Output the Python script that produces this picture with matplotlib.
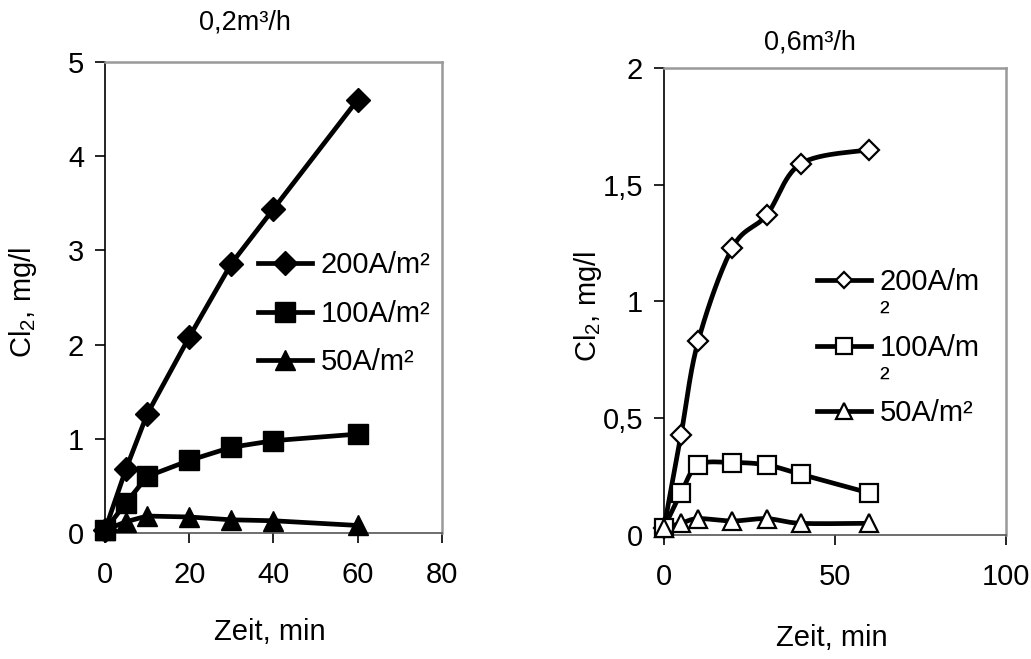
import numpy as np
import matplotlib
matplotlib.use("Agg")
import matplotlib.pyplot as plt
from matplotlib.ticker import FuncFormatter
from matplotlib.legend_handler import HandlerLine2D

plt.rcParams["font.family"] = ["Liberation Sans", "DejaVu Sans"]
plt.rcParams["mathtext.fontset"] = "custom"
plt.rcParams["mathtext.rm"] = "Liberation Sans"
plt.rcParams["mathtext.it"] = "Liberation Sans"

# ─── Data ────────────────────────────────────────────────────────────────────
time_min = [0, 5, 10, 20, 30, 40, 60]

# 0,2 m3/h
low_200 = [0.03, 0.68, 1.26, 2.08, 2.86, 3.44, 4.60]
low_100 = [0.03, 0.32, 0.60, 0.77, 0.91, 0.98, 1.05]
low_50 = [0.03, 0.12, 0.18, 0.17, 0.14, 0.13, 0.08]

# 0,6 m3/h
high_200 = [0.03, 0.43, 0.83, 1.23, 1.37, 1.59, 1.65]
high_100 = [0.03, 0.18, 0.30, 0.31, 0.30, 0.26, 0.18]
high_50 = [0.03, 0.05, 0.07, 0.06, 0.07, 0.05, 0.05]

labels_low = ["200A/m²", "100A/m²", "50A/m²"]
labels_high = ["200A/m\n²", "100A/m\n²", "50A/m²"]


def smooth(x, y, n=30):
    """Catmull-Rom style curve through the points (like a spreadsheet 'smoothed line')."""
    x = np.asarray(x, float)
    y = np.asarray(y, float)
    px = np.concatenate([[x[0]], x, [x[-1]]])
    py = np.concatenate([[y[0]], y, [y[-1]]])
    out_x, out_y = [], []
    for i in range(1, len(px) - 2):
        p0, p1, p2, p3 = (np.array([px[j], py[j]]) for j in (i - 1, i, i + 1, i + 2))
        c1 = p1 + (p2 - p0) / 6.0
        c2 = p2 - (p3 - p1) / 6.0
        t = np.linspace(0, 1, n)[:, None]
        b = ((1 - t) ** 3) * p1 + 3 * ((1 - t) ** 2) * t * c1 + 3 * (1 - t) * t ** 2 * c2 + t ** 3 * p2
        out_x.extend(b[:, 0])
        out_y.extend(b[:, 1])
    return out_x, out_y


class RaisedLine(HandlerLine2D):
    """Legend handle lifted so it sits on the first line of a wrapped label."""

    def __init__(self, lift, **kw):
        super().__init__(**kw)
        self.lift = lift

    def create_artists(self, legend, orig_handle, xdescent, ydescent,
                       width, height, fontsize, trans):
        arts = super().create_artists(legend, orig_handle, xdescent, ydescent,
                                      width, height, fontsize, trans)
        for a in arts:
            a.set_ydata(np.asarray(a.get_ydata()) + self.lift * fontsize)
        return arts


comma = FuncFormatter(lambda v, p: f"{v:g}".replace(".", ","))

FS = 21
fig = plt.figure(figsize=(10.31, 6.59), dpi=100)
ax1 = fig.add_axes([0.1018, 0.1912, 0.3269, 0.7147])
ax2 = fig.add_axes([0.644, 0.1882, 0.3317, 0.7086])


def style_axes(ax):
    for side in ("top", "right"):
        ax.spines[side].set_color("#999999")
        ax.spines[side].set_linewidth(1.8)
    ax.spines["left"].set_color("black")
    ax.spines["left"].set_linewidth(1.2)
    ax.spines["bottom"].set_color("#555555")
    ax.spines["bottom"].set_linewidth(1.2)
    ax.tick_params(axis="both", direction="out", length=7, width=1.2,
                   labelsize=FS)
    ax.tick_params(axis="y", pad=8)
    ax.tick_params(axis="x", pad=13)
    ax.yaxis.set_major_formatter(comma)


# ─── Left panel: straight lines, filled markers ─────────────────────────────
lw = 3.4
ax1.plot(time_min, low_200, color="black", lw=lw, marker="D", ms=12,
         mfc="black", mec="black", label=labels_low[0], clip_on=False, zorder=3)
ax1.plot(time_min, low_100, color="black", lw=lw, marker="s", ms=15,
         mfc="black", mec="black", label=labels_low[1], clip_on=False, zorder=3)
ax1.plot(time_min, low_50, color="black", lw=lw, marker="^", ms=15,
         mfc="black", mec="black", label=labels_low[2], clip_on=False, zorder=3)
ax1.set_xlim(0, 80)
ax1.set_ylim(0, 5)
ax1.set_xticks([0, 20, 40, 60, 80])
ax1.set_yticks([0, 1, 2, 3, 4, 5])
style_axes(ax1)
ax1.set_xlabel("Zeit, min", fontsize=FS)
ax1.xaxis.set_label_coords(0.49, -0.18)
ax1.set_ylabel(r"Cl$_\mathrm{2}$, mg/l", fontsize=FS)
ax1.yaxis.set_label_coords(-0.195, 0.49)
ax1.legend(loc="upper left", bbox_to_anchor=(0.454, 0.598), frameon=False,
           fontsize=FS, handlelength=1.85, handletextpad=0.3,
           labelspacing=0.7, borderpad=0, borderaxespad=0)
fig.text(0.238, 0.966, "0,2m³/h", fontsize=FS - 1.5, ha="center", va="center")

# ─── Right panel: smoothed lines, open markers ──────────────────────────────
series_high = [(high_200, "D", 10), (high_100, "s", 13), (high_50, "^", 13)]
handles_high = []
for (vals, mk, ms), lab in zip(series_high, labels_high):
    sx, sy = smooth(time_min, vals)
    ax2.plot(sx, sy, color="black", lw=lw, zorder=2, clip_on=False)
    ax2.plot(time_min, vals, ls="none", marker=mk, ms=ms, mfc="white",
             mec="black", mew=1.6, zorder=3, clip_on=False)
    h, = ax2.plot([], [], color="black", lw=lw, marker=mk, ms=ms * 0.85,
                  mfc="white", mec="black", mew=1.6, label=lab)
    handles_high.append(h)
ax2.set_xlim(0, 100)
ax2.set_ylim(0, 2)
ax2.set_xticks([0, 50, 100])
ax2.set_yticks([0, 0.5, 1, 1.5, 2])
style_axes(ax2)
ax2.set_xlabel("Zeit, min", fontsize=FS)
ax2.xaxis.set_label_coords(0.49, -0.19)
ax2.set_ylabel(r"Cl$_\mathrm{2}$, mg/l", fontsize=FS)
ax2.yaxis.set_label_coords(-0.175, 0.49)
leg2 = ax2.legend(handles=handles_high, loc="upper left",
                  bbox_to_anchor=(0.447, 0.572), frameon=False,
                  fontsize=FS, handlelength=1.85, handletextpad=0.3,
                  labelspacing=0.22, borderpad=0, borderaxespad=0,
                  handler_map={handles_high[0]: RaisedLine(0.62),
                               handles_high[1]: RaisedLine(0.62)})
for t in leg2.get_texts():
    t.set_linespacing(1.15)
fig.text(0.786, 0.936, "0,6m³/h", fontsize=FS - 1.5, ha="center", va="center")

fig.savefig("out.png", dpi=100, facecolor="white")
